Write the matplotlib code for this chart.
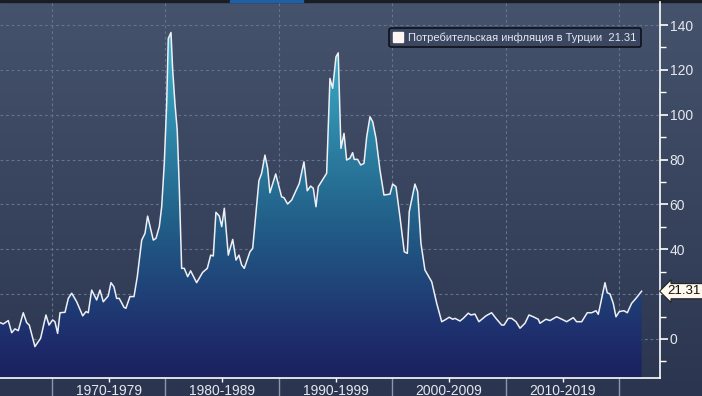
import matplotlib
matplotlib.use("Agg")
import matplotlib.pyplot as plt
import matplotlib.ticker as mticker
import matplotlib.patches as mpatches
from matplotlib.colors import LinearSegmentedColormap
import numpy as np

# Turkey CPI YoY, %
years = [
    1965.42, 1965.71, 1966.15, 1966.45, 1966.74, 1967.03, 1967.47, 1967.77, 1968.00, 1968.50,
    1969.00, 1969.47, 1969.74, 1970.06, 1970.26, 1970.50, 1970.71, 1971.15, 1971.44, 1971.74,
    1972.18, 1972.71, 1973.00, 1973.20, 1973.50, 1973.94, 1974.23, 1974.52, 1974.96, 1975.20,
    1975.46, 1975.70, 1975.93, 1976.35, 1976.52, 1976.87, 1977.23, 1977.52, 1977.91, 1978.20,
    1978.43, 1978.93, 1979.17, 1979.46, 1979.67, 1979.90, 1980.11, 1980.25, 1980.49, 1980.64,
    1980.84, 1981.04, 1981.22, 1981.43, 1981.66, 1981.96, 1982.22, 1982.75, 1983.28, 1983.69,
    1983.99, 1984.22, 1984.45, 1984.75, 1984.96, 1985.19, 1985.54, 1985.93, 1986.22, 1986.48,
    1986.72, 1986.95, 1987.45, 1987.69, 1988.24, 1988.48, 1988.77, 1989.01, 1989.21, 1989.72,
    1990.24, 1990.45, 1990.77, 1991.13, 1991.80, 1992.21, 1992.50, 1992.80, 1993.03, 1993.27,
    1993.47, 1994.21, 1994.50, 1994.74, 1995.03, 1995.23, 1995.47, 1995.74, 1995.97, 1996.26,
    1996.50, 1996.64, 1996.94, 1997.21, 1997.50, 1997.74, 1998.03, 1998.27, 1998.56, 1998.91,
    1999.26, 1999.79, 2000.03, 2000.32, 2000.67, 2001.05, 2001.32, 2001.49, 2001.70, 2001.99,
    2002.23, 2002.52, 2002.87, 2003.47, 2003.91, 2004.35, 2004.64, 2005.02, 2005.32, 2005.52,
    2005.96, 2006.25, 2006.69, 2006.93, 2007.28, 2007.63, 2008.25, 2008.75, 2009.13, 2009.64,
    2009.84, 2010.22, 2010.52, 2010.90, 2011.25, 2011.69, 2012.04, 2012.42, 2012.86, 2013.01,
    2013.54, 2013.89, 2014.48, 2015.06, 2015.36, 2015.95, 2016.24, 2016.69, 2017.18, 2017.57,
    2017.95, 2018.15, 2018.36, 2018.74, 2018.94, 2019.18, 2019.47, 2019.71, 2020.00, 2020.41,
    2020.71, 2021.09, 2021.47, 2021.97,
]
cpi = [
    7.3, 6.7, 8.2, 2.8, 4.5, 3.7, 11.7, 7.3, 6.2, -3.4,
    0.3, 10.7, 6.2, 8.5, 7.7, 2.5, 11.7, 11.9, 18.1, 20.4,
    16.6, 10.3, 12.2, 11.7, 21.8, 17.4, 21.8, 16.6, 19.2, 25.1,
    23.3, 18.1, 18.1, 14.1, 13.7, 18.9, 18.9, 27.8, 44.1, 47.1,
    54.8, 44.1, 44.9, 50.1, 59.0, 78.3, 105.0, 134.0, 136.7, 119.9,
    105.0, 93.2, 67.9, 31.5, 31.5, 27.8, 30.4, 25.1, 29.7, 31.5,
    37.4, 37.0, 56.5, 54.8, 50.1, 58.3, 37.4, 44.4, 35.2, 37.4,
    33.0, 31.5, 38.9, 40.4, 70.6, 73.9, 82.0, 76.1, 65.2, 73.6,
    63.4, 63.0, 60.2, 62.0, 69.4, 79.0, 66.1, 68.2, 67.2, 59.0,
    67.9, 73.9, 116.2, 111.8, 125.8, 127.6, 85.0, 91.7, 79.8, 80.6,
    83.1, 80.1, 80.1, 77.6, 78.3, 90.2, 99.1, 96.9, 89.5, 75.3,
    64.2, 64.6, 69.1, 67.9, 54.5, 38.9, 38.2, 56.8, 62.0, 69.1,
    65.7, 42.7, 30.8, 25.5, 15.9, 7.7, 8.5, 9.7, 8.8, 9.2,
    8.0, 9.2, 11.5, 10.7, 11.1, 7.7, 10.3, 11.7, 9.2, 6.2,
    6.2, 9.2, 9.2, 7.7, 4.8, 7.0, 10.7, 9.9, 8.8, 7.0,
    8.8, 8.2, 9.9, 8.5, 7.7, 9.5, 7.7, 7.7, 11.7, 11.7,
    12.6, 11.0, 15.9, 25.1, 20.6, 20.1, 15.9, 9.9, 12.2, 12.6,
    11.7, 15.9, 18.1, 21.31,
]
decades = [1970, 1980, 1990, 2000, 2010, 2020]
decade_labels = ["1970-1979", "1980-1989", "1990-1999", "2000-2009", "2010-2019"]
y_ticks = [0, 20, 40, 60, 80, 100, 120, 140]
y_labels = ["0", "", "40", "60", "80", "100", "120", "140"]  # "20" sits under the value tag
series_name = "Потребительская инфляция в Турции"
last_value = cpi[-1]

XMIN, XMAX = 1965.42, 2023.59
YMIN, YMAX = -17.4, 150.3
TXT = "#e4e8ef"
GRID = "#62748f"

plt.rcParams["font.family"] = ["Liberation Sans", "DejaVu Sans"]

fig = plt.figure(figsize=(7.02, 3.96), dpi=100)

# figure background gradient
bg = fig.add_axes([0, 0, 1, 1], zorder=-5)
bg_cmap = LinearSegmentedColormap.from_list("bg", ["#2b3550", "#46536c"])
bg.imshow(np.linspace(0, 1, 256).reshape(-1, 1), aspect="auto", cmap=bg_cmap,
          origin="lower", extent=[0, 1, 0, 1])
bg.set_axis_off()
bg.add_patch(mpatches.Rectangle((0, 0.995), 1, 0.005, color="#1b1d24", transform=bg.transAxes))
bg.add_patch(mpatches.Rectangle((0.328, 0.996), 0.104, 0.004, color="#1f5fa8", transform=bg.transAxes))

ax = fig.add_axes([0, 0.0455, 660 / 702, 0.9495])
ax.patch.set_alpha(0)
ax.set_xlim(XMIN, XMAX)
ax.set_ylim(YMIN, YMAX)

# gradient area under the curve
fill = ax.fill_between(years, cpi, YMIN, color="none", lw=0)
fill_cmap = LinearSegmentedColormap.from_list(
    "fill", [(0.0, "#1b215e"), (0.11, "#1e2d6c"), (0.45, "#226089"), (1.0, "#3db6ce")])
im = ax.imshow(np.linspace(0, 1, 256).reshape(-1, 1), aspect="auto", cmap=fill_cmap,
               origin="lower", extent=[XMIN, XMAX, YMIN, 140], zorder=1)
im.set_clip_path(fill.get_paths()[0], transform=ax.transData)
ax.set_ylim(YMIN, YMAX)

ax.plot(years, cpi, color="#eef0f6", lw=1.1, zorder=3)

# axes styling
for s in ["left", "top"]:
    ax.spines[s].set_visible(False)
ax.spines["right"].set_color("white")
ax.spines["bottom"].set_color("white")
ax.spines["right"].set_linewidth(1.2)
ax.spines["bottom"].set_linewidth(1.2)

ax.yaxis.tick_right()
ax.yaxis.set_major_locator(mticker.FixedLocator(y_ticks))
ax.yaxis.set_major_formatter(mticker.FixedFormatter(y_labels))
ax.yaxis.set_minor_locator(mticker.FixedLocator(range(-10, 150, 20)))
ax.tick_params(axis="y", which="major", colors="white", labelcolor=TXT, length=6,
               width=1.2, labelsize=10, pad=1)
ax.tick_params(axis="y", which="minor", colors="white", length=4, width=1)

mids = [d + 5 for d in decades[:-1]]
ax.xaxis.set_major_locator(mticker.FixedLocator(mids))
ax.xaxis.set_major_formatter(mticker.FixedFormatter(decade_labels))
ax.xaxis.set_minor_locator(mticker.FixedLocator(decades))
ax.tick_params(axis="x", which="major", colors="white", labelcolor=TXT, length=3,
               width=1, labelsize=10, pad=1)
ax.tick_params(axis="x", which="minor", colors="#8a97ab", length=19, width=1)

ax.grid(True, which="major", axis="y", color=GRID, ls=(0, (2.5, 2.5)), lw=0.8)
ax.grid(True, which="minor", axis="x", color=GRID, ls=(0, (2.5, 2.5)), lw=0.8)
ax.grid(False, which="major", axis="x")
ax.set_axisbelow(True)

# legend
handle = plt.Line2D([0], [0], marker="s", color="none", markerfacecolor="#fff6f2",
                    markeredgecolor="#fff6f2", markersize=7.5)
leg = ax.legend([handle], [f"{series_name}  {last_value:.2f}"], loc="upper right",
                bbox_to_anchor=(641 / 660, 1 - 25.7 / 376), borderaxespad=0, fontsize=8,
                frameon=True, fancybox=True, handlelength=0.8, handletextpad=0.5,
                borderpad=0.4, labelcolor=TXT)
leg.get_frame().set_facecolor("#3b4761")
leg.get_frame().set_edgecolor("#0e1118")
leg.get_frame().set_linewidth(1.2)
leg.get_frame().set_alpha(1)

# last value tag
ax.annotate(f"{last_value:.2f}", xy=(1.0, last_value), xycoords=("axes fraction", "data"),
            xytext=(5.5, 0), textcoords="offset points", va="center", ha="left",
            fontsize=9.5, color="#111111", annotation_clip=False,
            bbox=dict(boxstyle="larrow,pad=0.12", fc="#fff8ec", ec="#222222", lw=0.8))

fig.savefig("out.png", dpi=100)
